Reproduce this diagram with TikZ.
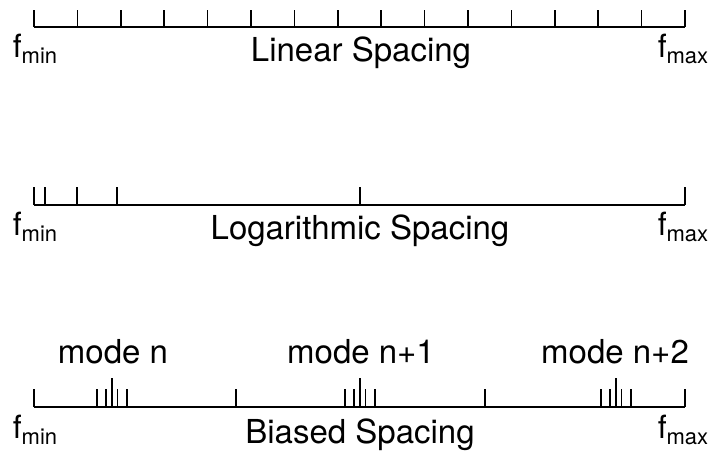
\documentclass[tikz,border=0pt]{standalone}
\usepackage{fontspec}
\setmainfont{TeX Gyre Heros}
\usetikzlibrary{positioning}
\newcommand{\fsub}[1]{f\raisebox{-6.5pt}{\fontsize{22}{22}\selectfont #1}}

\begin{document}
\begin{tikzpicture}[x=1pt,y=-1pt,line width=1.6pt,
                    tick/.style={line width=1.6pt},
                    lbl/.style={inner sep=0pt,anchor=base,font=\fontsize{33}{33}\selectfont},
                    flbl/.style={inner sep=0pt,font=\fontsize{32}{32}\selectfont}]
  \useasboundingbox (0,0) rectangle (711,450);
  % linear
  \coordinate (lin-a) at (34,27);
  \coordinate (lin-b) at (685,27);
  \draw (lin-a) -- (lin-b);
  \foreach \i in {0,...,15} \draw[tick] (34+\i*43.4,27) -- ++(0,-17);
  \node[flbl,anchor=base west] (fmin1) at (12,57) {\fsub{min}};
  \node[flbl,anchor=base east] (fmax1) at (709,57) {\fsub{max}};
  \node[lbl] (lin) at (361,61) {Linear Spacing};
  % logarithmic
  \coordinate (log-a) at (34,205);
  \coordinate (log-b) at (685,205);
  \draw (log-a) -- (log-b);
  \foreach \x in {34,45,77,117,360,685} \draw[tick] (\x,205) -- ++(0,-18);
  \node[flbl,anchor=base west] (fmin2) at (12,235) {\fsub{min}};
  \node[flbl,anchor=base east] (fmax2) at (709,235) {\fsub{max}};
  \node[lbl] (log) at (360,239) {Logarithmic Spacing};
  % biased
  \coordinate (bias-a) at (34,407);
  \coordinate (bias-b) at (685,407);
  \draw (bias-a) -- (bias-b);
  \foreach \x in {34,236,485,685} \draw[tick] (\x,407) -- ++(0,-18);
  \foreach \c in {112,360,616}{
    \foreach \d in {-15,-6,5.5,15} \draw[tick] (\c+\d,407) -- ++(0,-18);
    \draw[tick] (\c,407) -- ++(0,-29);
  }
  \node[lbl] (mode0) at (113,363) {mode n};
  \node[lbl] (mode1) at (361,363) {mode n+1};
  \node[lbl] (mode2) at (615,363) {mode n+2};
  \node[flbl,anchor=base west] (fmin3) at (12,438) {\fsub{min}};
  \node[flbl,anchor=base east] (fmax3) at (709,438) {\fsub{max}};
  \node[lbl] (bias) at (360,443) {Biased Spacing};
\end{tikzpicture}
\end{document}
